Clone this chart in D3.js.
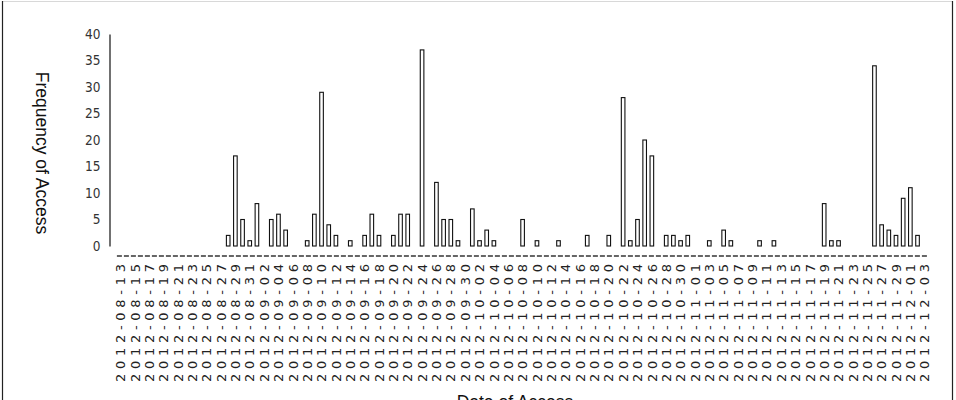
<!DOCTYPE html>
<html>
<head>
<meta charset="utf-8">
<script src="https://cdn.jsdelivr.net/npm/d3@7"></script>
<style>
  html, body { margin: 0; padding: 0; background: #fff; }
  svg { display: block; }
</style>
</head>
<body>
<svg id="chart" width="956" height="400"></svg>
<script>
// ---- data ----
const firstDay = "2012-08-13";
const lastDay = "2012-12-03";
const barDates = [
  "2012-08-28","2012-08-29","2012-08-30","2012-08-31","2012-09-01","2012-09-03","2012-09-04","2012-09-05",
  "2012-09-08","2012-09-09","2012-09-10","2012-09-11","2012-09-12","2012-09-14","2012-09-16","2012-09-17",
  "2012-09-18","2012-09-20","2012-09-21","2012-09-22","2012-09-24","2012-09-26","2012-09-27","2012-09-28",
  "2012-09-29","2012-10-01","2012-10-02","2012-10-03","2012-10-04","2012-10-08","2012-10-10","2012-10-13",
  "2012-10-17","2012-10-20","2012-10-22","2012-10-23","2012-10-24","2012-10-25","2012-10-26","2012-10-28",
  "2012-10-29","2012-10-30","2012-10-31","2012-11-03","2012-11-05","2012-11-06","2012-11-10","2012-11-12",
  "2012-11-19","2012-11-20","2012-11-21","2012-11-26","2012-11-27","2012-11-28","2012-11-29","2012-11-30",
  "2012-12-01","2012-12-02"
];
const barValues = [
  2,17,5,1,8,5,6,3,
  1,6,29,4,2,1,2,6,
  2,2,6,6,37,12,5,5,
  1,7,1,3,1,5,1,1,
  2,2,28,1,5,20,17,2,
  2,1,2,1,3,1,1,1,
  8,1,1,34,4,3,2,9,
  11,2
];
const yTicks = [0,5,10,15,20,25,30,35,40];
const tickLabels = [
  "2012-08-13","2012-08-15","2012-08-17","2012-08-19","2012-08-21","2012-08-23","2012-08-25","2012-08-27",
  "2012-08-29","2012-08-31","2012-09-02","2012-09-04","2012-09-06","2012-09-08","2012-09-10","2012-09-12",
  "2012-09-14","2012-09-16","2012-09-18","2012-09-20","2012-09-22","2012-09-24","2012-09-26","2012-09-28",
  "2012-09-30","2012-10-02","2012-10-04","2012-10-06","2012-10-08","2012-10-10","2012-10-12","2012-10-14",
  "2012-10-16","2012-10-18","2012-10-20","2012-10-22","2012-10-24","2012-10-26","2012-10-28","2012-10-30",
  "2012-11-01","2012-11-03","2012-11-05","2012-11-07","2012-11-09","2012-11-11","2012-11-13","2012-11-15",
  "2012-11-17","2012-11-19","2012-11-21","2012-11-23","2012-11-25","2012-11-27","2012-11-29","2012-12-01",
  "2012-12-03"
];
const yTitle = "Frequency of Access";
const xTitle = "Date of Access";

// ---- build ----
const parse = d3.utcParse("%Y-%m-%d");
const fmt = d3.utcFormat("%Y-%m-%d");
const allDays = d3.utcDay.range(parse(firstDay), d3.utcDay.offset(parse(lastDay), 1)).map(fmt);

const svg = d3.select("#chart");

// frame
svg.append("line").attr("x1", 2).attr("x2", 953).attr("y1", 1.5).attr("y2", 1.5)
  .attr("stroke", "#d8d8d8").attr("stroke-width", 1);
svg.append("line").attr("x1", 2.5).attr("x2", 2.5).attr("y1", 1).attr("y2", 400)
  .attr("stroke", "#222").attr("stroke-width", 1.2);
svg.append("line").attr("x1", 952.5).attr("x2", 952.5).attr("y1", 1).attr("y2", 400)
  .attr("stroke", "#222").attr("stroke-width", 1.2);

const x = d3.scaleBand().domain(allDays).range([116.9, 928.3]).paddingInner(0).paddingOuter(0);
const y = d3.scaleLinear().domain([0, 40]).range([246, 34]);

// y axis
const yAxis = svg.append("g").attr("transform", "translate(109.5,0)")
  .call(d3.axisLeft(y).tickValues(yTicks).tickSize(0).tickPadding(9));
yAxis.select(".domain").attr("stroke", "#111").attr("stroke-width", 1.2);
yAxis.selectAll("text")
  .attr("font-family", "'DejaVu Sans Condensed', 'DejaVu Sans', sans-serif")
  .attr("font-size", 13.5).attr("fill", "#333");

// dashed x baseline
svg.append("line")
  .attr("x1", x.range()[0]).attr("x2", x.range()[1])
  .attr("y1", 256).attr("y2", 256)
  .attr("stroke", "#666").attr("stroke-width", 2).attr("stroke-dasharray", "5,2");

// x tick labels via axis
const xAxis = svg.append("g").attr("transform", "translate(0,264)")
  .call(d3.axisBottom(x).tickValues(tickLabels).tickSize(0).tickPadding(0));
xAxis.select(".domain").remove();
xAxis.selectAll("text")
  .attr("font-family", "'DejaVu Sans', sans-serif")
  .attr("font-size", 13)
  .attr("fill", "#222")
  .attr("text-anchor", "end")
  .attr("transform", "rotate(-90)")
  .attr("x", 0).attr("y", 0).attr("dy", "0.36em")
  .attr("textLength", 118).attr("lengthAdjust", "spacing");

// bars
const bw = 3.6;
svg.append("g").selectAll("rect")
  .data(barDates.map((d, i) => ({date: d, value: barValues[i]})))
  .join("rect")
  .attr("x", d => x(d.date) + x.bandwidth() / 2 - bw / 2)
  .attr("y", d => y(d.value))
  .attr("width", bw)
  .attr("height", d => y(0) - y(d.value))
  .attr("fill", "#fff")
  .attr("stroke", "#111")
  .attr("stroke-width", 1.1);

// titles
svg.append("text")
  .attr("transform", "translate(36,153) rotate(90)")
  .attr("text-anchor", "middle")
  .attr("font-family", "'Liberation Sans', Arial, sans-serif")
  .attr("font-size", 17.5)
  .attr("fill", "#111")
  .text(yTitle);

svg.append("text")
  .attr("x", 515).attr("y", 408)
  .attr("text-anchor", "middle")
  .attr("font-family", "'Liberation Sans', Arial, sans-serif")
  .attr("font-size", 17.5)
  .attr("fill", "#111")
  .text(xTitle);
</script>
</body>
</html>
